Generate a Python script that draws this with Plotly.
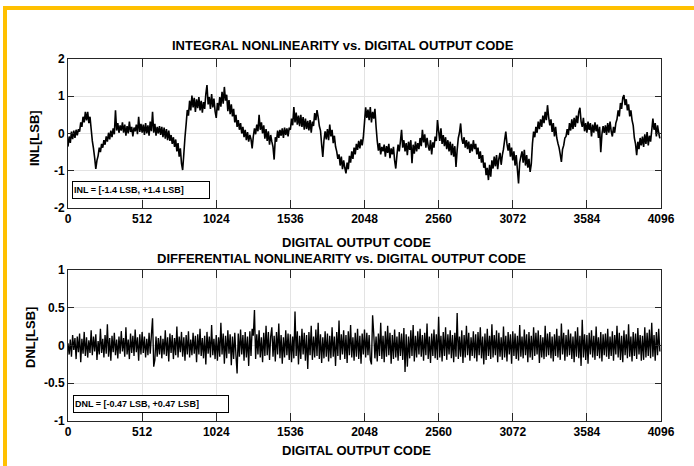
import numpy as np
import plotly.graph_objects as go
from plotly.subplots import make_subplots

# ---- data (in hundredths of an LSB, one value every 8 output codes) ----
CODE_STEP = 8
inl_centi_lsb = [
    -35, -8, -25, 5, -15, 8, -12, 10, -5, 12, 5, 30, 18, 45, 30, 58,
    35, 58, 28, 45, 12, -20, -40, -65, -95, -72, -60, -38, -50, -28, -38, -18,
    -30, -8, -22, 2, -16, 8, -10, 14, -2, 62, 8, 28, 2, 22, 8, 30,
    2, 24, -6, 20, 0, 32, 4, 18, -8, 16, 6, 24, -2, 45, 4, 26,
    2, 24, -4, 28, 0, 22, -6, 32, 6, 58, 2, 26, -6, 18, 0, 20,
    -4, 18, -10, 16, -14, 12, -18, 8, -20, -4, -28, -10, -36, -16, -48, -26,
    -62, -40, -80, -98, -55, -10, 25, 63, 48, 88, 62, 102, 70, 96, 58, 92,
    68, 98, 62, 88, 56, 84, 66, 106, 130, 78, 98, 66, 106, 70, 94, 60,
    42, 82, 62, 98, 72, 112, 80, 125, 88, 104, 60, 90, 52, 78, 46, 66,
    30, 50, 18, 36, 10, 28, 0, 18, -10, 10, -18, 4, -22, -4, -15, -40,
    -8, 14, -2, 24, 6, 50, 10, 30, 0, 22, -14, 12, -20, 6, -30, -4,
    -22, -36, -70, -10, -22, 8, -12, 10, -6, 14, -12, 16, -4, 14, -8, 16,
    10, 40, 22, 71, 30, 56, 24, 48, 20, 50, 18, 44, 10, 40, 12, 34,
    8, 36, 2, 32, 20, 55, 36, 63, 44, 20, 8, -30, -63, -18, 6, -16,
    12, -18, 24, -8, 10, -26, -6, -35, -48, -68, -56, -86, -62, -96, -72, -92,
    -107, -78, -96, -60, -78, -48, -68, -38, -56, -28, -44, -20, -40, -16, -32, -10,
    30, 70, 42, 64, 36, 71, 30, 58, 40, 66, 18, -20, -46, -26, -56, -36,
    -48, -30, -62, -34, -52, -28, -66, -40, -56, -36, -72, -94, -58, -30, -48, -22,
    10, -38, -18, -48, -26, -58, -22, -44, -18, -80, -30, -54, -22, -48, -26, -42,
    -12, -34, 10, -24, -2, -38, -12, -34, -46, -18, -56, -24, -38, -8, -20, 36,
    6, -20, 14, -28, -4, -34, -10, -42, -18, -48, -22, -58, -28, -62, -34, -90,
    -44, -12, 2, 27, -14, -28, -10, -38, -18, -42, -22, -52, -28, -48, -18, -42,
    -28, -56, -38, -68, -48, -78, -58, -92, -78, -112, -92, -125, -84, -116, -72, -94,
    -62, -88, -58, -96, -68, -52, -84, -58, -42, -18, 5, -28, -46, -26, -62, -38,
    -72, -48, -86, -58, -96, -134, -78, -62, -48, -78, -44, -86, -58, -92, -68, -103,
    -82, -28, 5, -10, 18, 2, 32, 12, 38, 18, 48, 28, 58, 36, 76, 44,
    22, 38, 4, 28, -8, 18, -12, -26, -38, -56, -76, -42, -32, -12, -8, 12,
    -4, 28, 8, 38, 12, 42, 18, 48, 28, 58, 69, 32, 18, 42, 6, 28,
    2, 32, 10, 28, -8, 24, 2, 30, 6, 24, -12, 18, -50, -2, 20, 2,
    22, -4, 28, 2, 32, 6, -8, 18, 2, 28, 38, 62, 46, 82, 66, 96,
    103, 76, 92, 62, 78, 46, 62, 36, 22, -12, -28, -58, -22, -42, -12, -32,
    -8, -36, -2, -28, 4, -32, -6, -22, 8, 40, 10, 28, -8, 22, 2, -13,
]
dnl_centi_lsb = [
    3, -12, 8, -15, 14, -6, 10, -18, 12, -9, 16, -22, 9, -11, 18, -14,
    11, -16, 7, -10, 20, -13, 12, -8, 15, -19, 6, -12, 22, -10, 9, -16,
    14, -11, 28, -15, 10, -20, 13, -9, 17, -13, 8, -17, 12, -11, 19, -8,
    10, -15, 24, -12, 8, -18, 16, -10, 13, -14, 21, -9, 11, -20, 15, -12,
    18, -10, 12, -16, 9, -13, 17, -11, 14, 36, -28, -19, 12, -15, 10, -12,
    13, -17, 9, -12, 20, -14, 11, -21, 16, -10, 14, -18, 10, -13, 25, -16,
    12, -9, 18, -15, 11, -20, 14, -12, 19, -16, 8, -13, 17, -11, 13, -22,
    15, -12, 22, -14, 10, -17, 13, -25, 18, -11, 12, -16, 27, -13, 9, -18,
    14, -20, 11, -15, 30, -12, 16, -24, 13, -17, 20, -11, 15, -26, 12, -18,
    17, -13, -37, 16, -15, 21, -12, 14, -20, 18, -16, 12, -27, 19, -14, 22,
    13, 47, -18, 15, -12, 20, -16, 11, -22, 17, -14, 26, -13, 18, -19, 12,
    24, -15, 13, -21, 18, -12, 29, -17, 14, -24, 11, -16, 20, -13, 16, -19,
    15, -22, 12, -17, 45, -14, 19, -25, 13, -18, 22, -12, 17, -20, 14, -31,
    18, -13, 26, -19, 12, -16, 21, -14, 30, -18, 15, -23, 11, -17, 19, -15,
    16, -21, 13, -17, 24, -15, 12, -27, 18, -14, 33, -19, 15, -12, 20, -18,
    14, -23, 19, -13, 27, -16, 11, -20, 17, -15, 22, -18, 13, -24, 16, -12,
    21, -16, 17, -13, 14, -19, -25, 40, 15, -17, 12, -21, 16, -14, 30, -18,
    13, -22, 19, -15, 26, -13, 17, -24, 14, -18, 21, -16, 12, -20, 18, -14,
    16, -19, 23, -35, 15, -28, 12, -17, 20, -14, 27, -21, 13, -16, 19, -12,
    22, -15, 14, -20, 17, -13, 29, -18, 12, -23, 16, -14, 21, -17, 15, -19,
    38, -16, 13, -21, 18, -14, 24, -19, 15, -12, 20, -17, 14, -22, 17, -15,
    43, -18, 12, -15, 20, -23, 14, -16, 26, -13, 17, -20, 11, -14, 19, -17,
    15, -21, 18, -13, 24, -17, 12, -25, 16, -19, 22, -14, 13, -18, 28, -16,
    14, -13, 20, -22, 17, -15, 11, -19, 25, -16, 13, -21, 18, -12, 15, -24,
    19, -14, 16, -18, 13, -20, 27, -15, 12, -17, 21, -13, 15, -22, 18, -16,
    13, -19, 24, -14, 17, -12, 20, -23, 14, -16, 11, -18, 26, -15, 16, -13,
    18, -17, 12, -21, 15, -14, 22, -16, 13, -19, 29, -12, 17, -20, 14, -15,
    21, -13, 16, -18, 12, -22, 19, -15, 24, -17, 13, -27, 34, -16, 15, -19,
    14, -24, 17, -12, 20, -16, 13, -19, 25, -14, 11, -17, 18, -21, 15, -13,
    16, -15, 22, -18, 12, -14, 19, -20, 14, -12, 26, -16, 17, -19, 13, -22,
    20, -13, 15, -17, 28, -15, 12, -21, 18, -14, 16, -18, 23, -12, 14, -20,
    13, -19, 24, -16, 17, -14, 21, -17, 30, -15, 14, -20, 18, -13, 22, -8,
]
x_tick_codes = [0, 512, 1024, 1536, 2048, 2560, 3072, 3584, 4096]
inl_y_ticks = [-2, -1, 0, 1, 2]
dnl_y_ticks = [-1, -0.5, 0, 0.5, 1]
inl_label = "INL = [-1.4 LSB, +1.4 LSB]"
dnl_label = "DNL = [-0.47 LSB, +0.47 LSB]"

inl = np.array(inl_centi_lsb) / 100.0
dnl = np.array(dnl_centi_lsb) / 100.0
codes_inl = np.arange(len(inl)) * CODE_STEP
codes_dnl = np.arange(len(dnl)) * CODE_STEP

# ---- page geometry ----
W, H = 694, 466
ML, MR, MT, MB = 68, 33, 59, 45
PW, PH = W - ML - MR, H - MT - MB


def px(xp):
    return (xp - ML) / PW


def py(yp):
    return (H - MB - yp) / PH


FONT = "Liberation Sans, Arial, sans-serif"
AXIS_DARK = "#262626"
GRID = "#e3e3e3"

fig = make_subplots(rows=2, cols=1, vertical_spacing=0.0)
# simplify=False keeps every sample so the jitter is drawn in full
fig.add_trace(go.Scatter(x=codes_inl, y=inl, mode="lines",
                         line=dict(color="black", width=1.6, simplify=False),
                         showlegend=False),
              row=1, col=1)
fig.add_trace(go.Scatter(x=codes_dnl, y=dnl, mode="lines",
                         line=dict(color="black", width=1.35, simplify=False),
                         showlegend=False),
              row=2, col=1)

axis_common = dict(
    showline=True, linecolor=AXIS_DARK, linewidth=1, mirror="ticks",
    ticks="inside", tickcolor=AXIS_DARK, tickwidth=1,
    showgrid=True, gridcolor=GRID, gridwidth=1, zeroline=False,
    tickfont=dict(family=FONT, size=12, color="black", weight="bold"),
)
for r in (1, 2):
    fig.update_xaxes(range=[0, 4096], tickvals=x_tick_codes,
                     ticktext=[str(v) for v in x_tick_codes],
                     ticklen=8, row=r, col=1, **axis_common)
fig.update_yaxes(range=[-2, 2], tickvals=inl_y_ticks,
                 ticktext=[str(v) for v in inl_y_ticks],
                 ticklen=6, row=1, col=1, **axis_common)
fig.update_yaxes(range=[-1, 1], tickvals=dnl_y_ticks,
                 ticktext=["-1", "-0.5", "0", "0.5", "1"],
                 ticklen=6, row=2, col=1, **axis_common)

fig.update_layout(
    width=W, height=H,
    margin=dict(l=ML, r=MR, t=MT, b=MB),
    paper_bgcolor="white", plot_bgcolor="white",
    xaxis=dict(domain=[0, 1]), yaxis=dict(domain=[py(208), 1]),
    xaxis2=dict(domain=[0, 1]), yaxis2=dict(domain=[0, py(270)]),
)

heading = dict(family=FONT, size=13, color="black", weight="bold")
texts = [
    ("INTEGRAL NONLINEARITY vs. DIGITAL OUTPUT CODE", 343, 45, 0),
    ("DIGITAL OUTPUT CODE", 356, 242, 0),
    ("DIFFERENTIAL NONLINEARITY vs. DIGITAL OUTPUT CODE", 341, 258, 0),
    ("DIGITAL OUTPUT CODE", 356, 451, 0),
    ("INL[LSB]", 34, 138, -90),
    ("DNL[LSB]", 30, 338, -90),
]
for t, xp, yp, ang in texts:
    fig.add_annotation(text=t, x=px(xp), y=py(yp), xref="paper", yref="paper",
                       showarrow=False, xanchor="center", yanchor="middle",
                       textangle=ang, font=heading)

box_font = dict(family=FONT, size=9, color="black", weight="bold")
fig.add_annotation(text=inl_label, x=26, y=-1.52, xref="x", yref="y",
                   xanchor="left", yanchor="middle", showarrow=False,
                   align="left", width=134, height=14, font=box_font,
                   bgcolor="white", bordercolor="black", borderwidth=1, borderpad=1)
fig.add_annotation(text=dnl_label, x=33, y=-0.78, xref="x2", yref="y2",
                   xanchor="left", yanchor="middle", showarrow=False,
                   align="left", width=152, height=14, font=box_font,
                   bgcolor="white", bordercolor="black", borderwidth=1, borderpad=1)

# golden frame along the top and left edges of the page
gold = "#FFC000"
fig.add_shape(type="rect", xref="paper", yref="paper",
              x0=px(3), x1=px(7), y0=py(H + 2), y1=py(6),
              fillcolor=gold, line=dict(width=0), layer="above")
fig.add_shape(type="rect", xref="paper", yref="paper",
              x0=px(3), x1=px(W + 2), y0=py(10), y1=py(6),
              fillcolor=gold, line=dict(width=0), layer="above")

fig.write_html("out.html")
